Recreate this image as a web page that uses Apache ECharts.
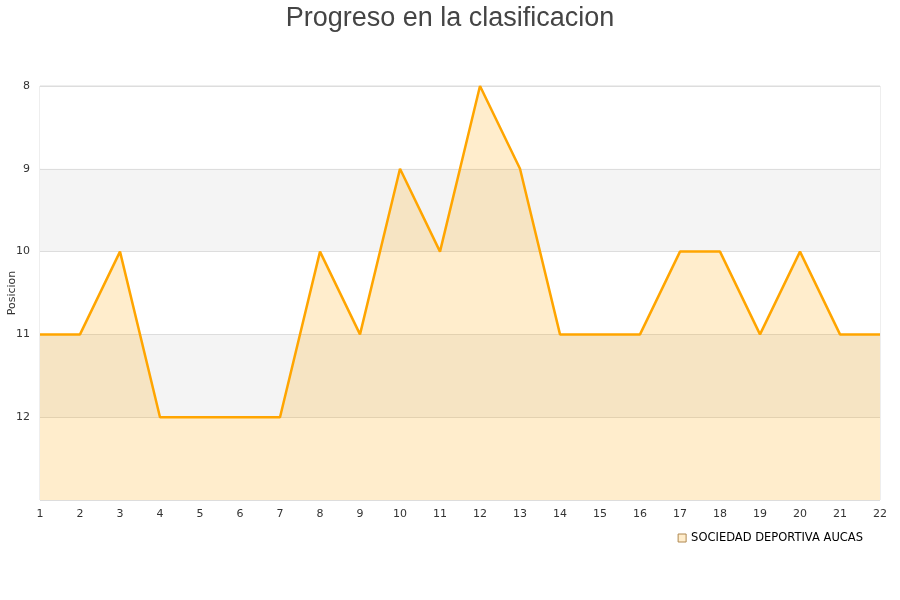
<!DOCTYPE html>
<html>
<head>
<meta charset="UTF-8">
<title>Progreso en la clasificacion</title>
<script src="https://cdn.jsdelivr.net/npm/echarts@6/dist/echarts.min.js"></script>
<style>html,body{margin:0;padding:0;background:#fff;}</style>
</head>
<body>
<div id="chart" style="width:900px;height:600px;"></div>
<script>
var jornadas = ['1','2','3','4','5','6','7','8','9','10','11','12','13','14','15','16','17','18','19','20','21','22'];
var posiciones = [11, 11, 10, 12, 12, 12, 12, 10, 11, 9, 10, 8, 9, 11, 11, 11, 10, 10, 11, 10, 11, 11];
var equipo = 'SOCIEDAD DEPORTIVA AUCAS';

var chart = echarts.init(document.getElementById('chart'));
chart.setOption({
    animation: false,
    title: {
        text: 'Progreso en la clasificacion',
        left: 'center',
        top: 0,
        textStyle: { color: '#444', fontSize: 27, fontWeight: 'normal', fontFamily: 'Liberation Sans' }
    },
    legend: {
        data: [{ name: equipo, icon: 'rect', itemStyle: { color: '#ffedcc', borderColor: '#b08850', borderWidth: 1 } }],
        right: 32,
        top: 527,
        itemWidth: 8,
        itemHeight: 8,
        itemGap: 6,
        textStyle: { color: '#000', fontSize: 11.5, fontFamily: 'DejaVu Sans' }
    },
    grid: {
        left: 40, right: 20, top: 86, bottom: 100,
        outerBoundsMode: 'none', containLabel: false,
        show: true, borderColor: '#ddd', borderWidth: 1
    },
    xAxis: {
        type: 'category',
        data: jornadas,
        boundaryGap: false,
        axisLine: { show: false },
        axisTick: { show: false },
        axisLabel: { color: '#333', fontSize: 11, fontFamily: 'DejaVu Sans', margin: 9 },
        splitLine: { show: false }
    },
    yAxis: {
        type: 'value',
        inverse: true,
        min: 8,
        max: 13,
        interval: 1,
        name: 'Posicion',
        nameLocation: 'middle',
        nameGap: 22,
        nameMoveOverlap: false,
        nameTextStyle: { color: '#333', fontSize: 11, fontFamily: 'DejaVu Sans' },
        axisLine: { show: false },
        axisTick: { show: false },
        axisLabel: {
            color: '#333', fontSize: 11, fontFamily: 'DejaVu Sans', margin: 10,
            formatter: function (v) { return v === 13 ? '' : String(v); }
        },
        splitLine: { show: true, lineStyle: { color: '#ddd' } },
        splitArea: { show: true, areaStyle: { color: ['#fff', '#f4f4f4'] } }
    },
    series: [{
        name: equipo,
        type: 'line',
        data: posiciones,
        showSymbol: false,
        lineStyle: { color: '#ffa500', width: 2.5 },
        itemStyle: { color: '#ffa500' },
        areaStyle: { color: '#ffa500', opacity: 0.2, origin: 'end' }
    }]
});
</script>
</body>
</html>
